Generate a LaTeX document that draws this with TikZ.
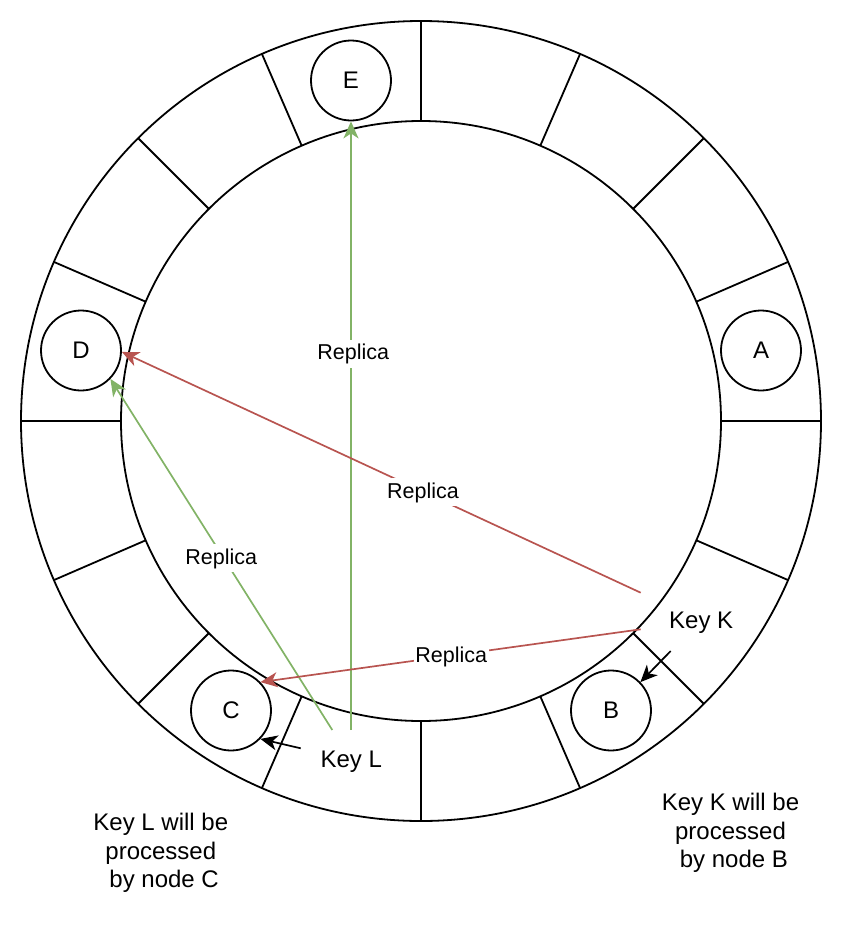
\documentclass[tikz,border=0pt]{standalone}
\usepackage{fontspec}
\setmainfont{Liberation Sans}
\usetikzlibrary{arrows.meta}
\definecolor{redc}{HTML}{B85450}
\definecolor{greenc}{HTML}{82B366}
\begin{document}
\begin{tikzpicture}[x=1pt,y=-1pt,
  ring/.style={line width=1.8pt},
  nodec/.style={circle,draw,line width=1.8pt,fill=white,minimum size=80pt,inner sep=0pt,font=\fontsize{24}{28}\selectfont},
  tipa/.style={-{Stealth[length=17pt,width=15pt,inset=5pt]}},
  gline/.style={draw=greenc,line width=1.7pt,tipa},
  rline/.style={draw=redc,line width=1.7pt,tipa},
  kline/.style={draw=black,line width=1.7pt,tipa},
  lab/.style={fill=white,inner xsep=1.5pt,inner ysep=4pt,anchor=base,font=\fontsize{21.5}{25}\selectfont},
  keytxt/.style={inner sep=0pt,anchor=base,font=\fontsize{24}{28.5}\selectfont},
  note/.style={inner sep=0pt,anchor=north,align=center,font=\fontsize{24}{28.5}\selectfont}
]
\useasboundingbox (0,0) rectangle (844,932);
\coordinate (O) at (421,421);
\draw[ring] (O) circle[radius=400pt];
\draw[ring] (O) circle[radius=300pt];
\foreach \a in {0,23.43,45,66.57,90,113.43,135,156.57,180,203.43,225,246.57,270,293.43,315,336.57}
  \draw[ring] ([shift={(\a:300)}]O) -- ([shift={(\a:400)}]O);

% nodes
\node[nodec] (E) at (351,80.5) {E};
\node[nodec] (A) at (761,350.5) {A};
\node[nodec] (D) at (81,350.5) {D};
\node[nodec] (B) at (611,710.5) {B};
\node[nodec] (C) at (231,710.5) {C};

% start points
\coordinate (gEs) at (351,730);
\coordinate (gDs) at (332.3,730);
\coordinate (rDs) at (640.7,592.7);
\coordinate (rCs) at (640.7,629.3);
\coordinate (kKs) at (670.7,651);
\coordinate (kLs) at (300.7,748.3);

% connectors
\draw[gline] (gEs) -- (E.south);
\draw[gline] (gDs) -- (D.-44.5);
\draw[rline] (rDs) -- (D.-2);
\draw[rline] (rCs) -- (C.44);
\draw[kline] (kKs) -- (B.44);
\draw[kline] (kLs) -- (C.-44);

% labels
\node[lab] (l1) at (353.3,359.3) {Replica};
\node[lab] (l2) at (423,498) {Replica};
\node[lab] (l3) at (451.2,662.5) {Replica};
\node[lab] (l4) at (221.2,564) {Replica};
\node[keytxt] (kK) at (701.2,628.3) {Key K};
\node[keytxt] (kL) at (351.2,767.7) {Key L};

\node[note] (nB) at (730.5,793) {Key K will be\\processed\hspace*{0.28em}\\\hspace*{0.28em}by node B};
\node[note] (nC) at (160.8,813) {Key L will be\\processed\hspace*{0.45em}\\\hspace*{0.28em}by node C};
\end{tikzpicture}
\end{document}
